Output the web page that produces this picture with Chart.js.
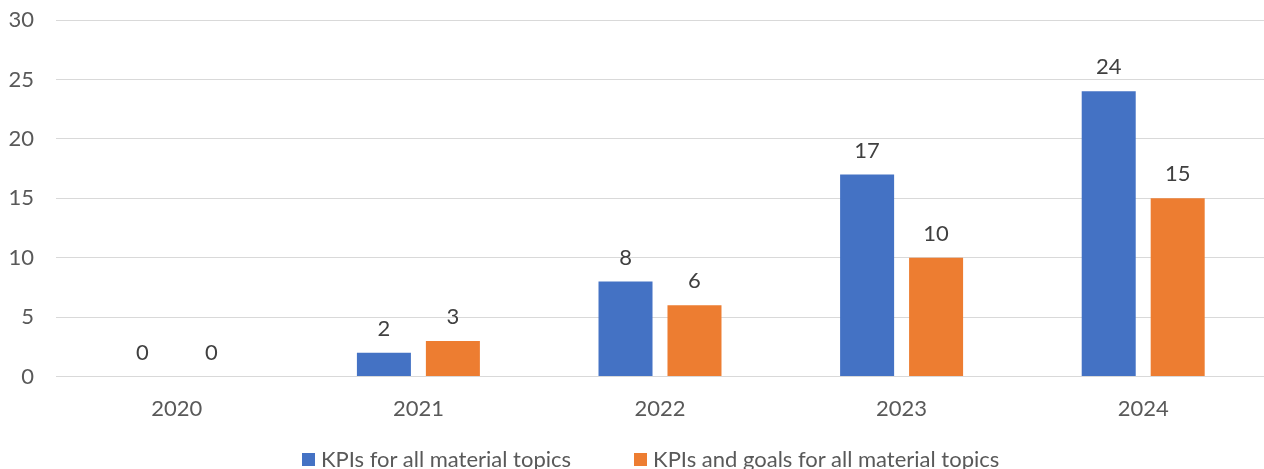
<!DOCTYPE html>
<html>
<head>
<meta charset="utf-8">
<script src="https://cdn.jsdelivr.net/npm/chart.js@4/dist/chart.umd.min.js"></script>
<style>
  body { margin: 0; background: #fff; }
  #wrap { position: relative; width: 1264px; height: 469px; }
  #legenda {
    position: absolute; left: 302px; top: 446px; height: 26px;
    display: flex; align-items: center;
    font-family: Lato, Calibri, sans-serif; font-size: 22px; line-height: 26px; color: #595959;
    white-space: nowrap;
  }
  .voce { display: flex; align-items: center; }
  .voce + .voce { margin-left: 63px; }
  .quadrato { display: inline-block; width: 13px; height: 13px; margin-right: 6px; }
</style>
</head>
<body>
<div id="wrap">
  <canvas id="myChart" width="1264" height="469"></canvas>
  <div id="legenda"></div>
</div>
<script>
const anni = ['2020', '2021', '2022', '2023', '2024']
const kpiTopics = [0, 2, 8, 17, 24]
const kpiGoals = [0, 3, 6, 10, 15]
const yTicks = [0, 5, 10, 15, 20, 25, 30]

const fontFamily = 'Lato, Calibri, sans-serif'

// etichette dei valori sopra le barre
const valoriSopra = {
    id: 'valoriSopra',
    afterDatasetsDraw(chart) {
        const ctx = chart.ctx
        ctx.save()
        ctx.font = '22px ' + fontFamily
        ctx.fillStyle = '#404040'
        ctx.textAlign = 'center'
        ctx.textBaseline = 'alphabetic'
        chart.data.datasets.forEach((ds, i) => {
            chart.getDatasetMeta(i).data.forEach((bar, j) => {
                ctx.fillText(ds.data[j], bar.x, bar.y - 17)
            })
        })
        ctx.restore()
    }
}

const ctx = document.getElementById('myChart').getContext('2d')
const myChart = new Chart(ctx, {
    type: 'bar',
    data: {
        labels: anni,
        datasets: [{
            label: 'KPIs for all material topics',
            data: kpiTopics,
            backgroundColor: '#4472C4'
        }, {
            label: 'KPIs and goals for all material topics',
            data: kpiGoals,
            backgroundColor: '#ED7D31'
        }]
    },
    options: {
        responsive: false,
        animation: false,
        categoryPercentage: 0.571,
        barPercentage: 0.783,
        layout: { padding: { top: 20, right: 0, left: 0, bottom: 36 } },
        plugins: {
            tooltip: { enabled: false },
            legend: { display: false }
        },
        scales: {
            x: {
                grid: { display: false },
                border: { display: false },
                ticks: {
                    color: '#595959',
                    padding: 11,
                    font: { family: fontFamily, size: 22 }
                }
            },
            y: {
                min: 0,
                max: 30,
                afterFit(scale) {
                    scale.width = 56
                    scale.paddingTop = 0
                    scale.paddingBottom = 0
                },
                afterBuildTicks(scale) { scale.ticks = yTicks.map(v => ({ value: v })) },
                grid: { color: '#d9d9d9', lineWidth: 1, drawTicks: false },
                border: { display: false },
                ticks: {
                    color: '#595959',
                    padding: 22,
                    font: { family: fontFamily, size: 22 }
                }
            }
        }
    },
    plugins: [valoriSopra]
})

// legenda html sotto il grafico
let legenda = document.querySelector('#legenda')
myChart.data.datasets.forEach(ds => {
    let voce = document.createElement('span')
    voce.setAttribute('class', 'voce')
    let quadrato = document.createElement('span')
    quadrato.setAttribute('class', 'quadrato')
    quadrato.style.background = ds.backgroundColor
    let testo = document.createElement('span')
    testo.textContent = ds.label
    voce.append(quadrato, testo)
    legenda.append(voce)
})
</script>
</body>
</html>
